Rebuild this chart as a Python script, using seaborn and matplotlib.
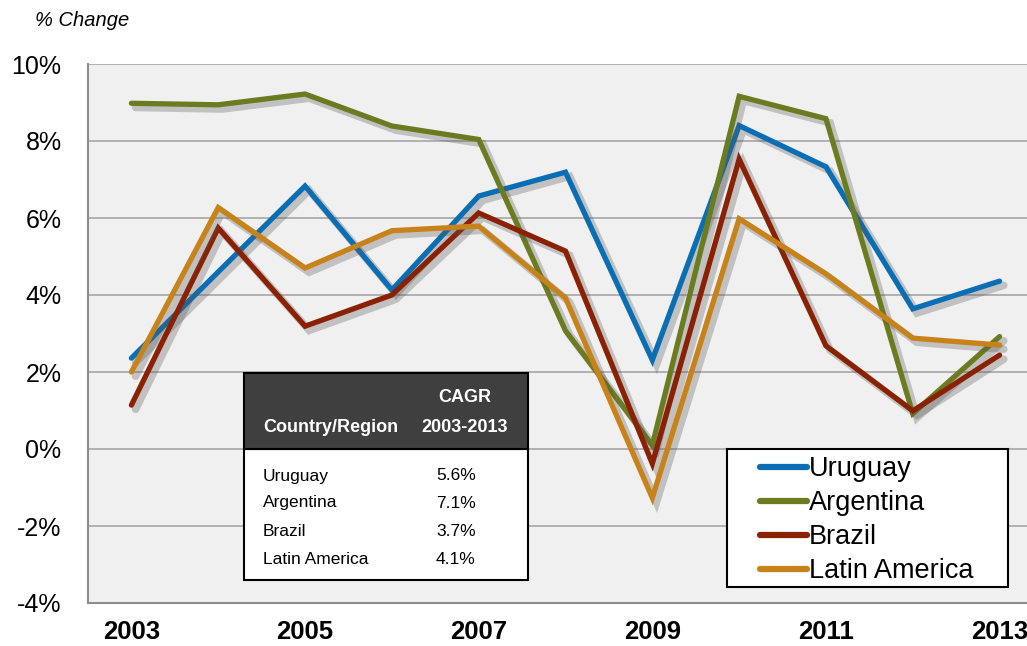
import numpy as np
import pandas as pd
import matplotlib
matplotlib.use('Agg')
import matplotlib.pyplot as plt
import matplotlib.patheffects as pe
from matplotlib.patches import Rectangle
import seaborn as sns

years = [2003, 2004, 2005, 2006, 2007, 2008, 2009, 2010, 2011, 2012, 2013]
uruguay = [2.36, 4.6, 6.83, 4.13, 6.57, 7.19, 2.31, 8.40, 7.33, 3.64, 4.36]
argentina = [8.98, 8.94, 9.22, 8.39, 8.04, 3.07, 0.1, 9.16, 8.58, 0.92, 2.92]
brazil = [1.14, 5.74, 3.19, 4.0, 6.13, 5.14, -0.38, 7.53, 2.68, 0.99, 2.44]
latam = [2.0, 6.27, 4.7, 5.67, 5.79, 3.92, -1.27, 5.98, 4.55, 2.88, 2.70]

series = ['Uruguay', 'Argentina', 'Brazil', 'Latin America']
colors = ['#0A6EB4', '#6B7B1F', '#8B2103', '#C8821A']

cagr_names = ['Uruguay', 'Argentina', 'Brazil', 'Latin America']
cagr_values = ['5.6%', '7.1%', '3.7%', '4.1%']

df = pd.DataFrame({
    'Year': years * 4,
    'Change': uruguay + argentina + brazil + latam,
    'Series': [s for s in series for _ in years],
})

sns.set_style('white')
plt.rcParams['font.family'] = ['Liberation Sans', 'DejaVu Sans']
plt.rcParams['text.color'] = 'black'

W, H = 1027, 646
fig = plt.figure(figsize=(W / 100, H / 100), dpi=100)
# axes runs a bit past the right edge, as in the cropped original
ax = fig.add_axes([88 / W, 1 - 603 / H, (1043 - 88) / W, (603 - 64) / H])
ax.set_facecolor('#F0F0F0')

sns.lineplot(data=df, x='Year', y='Change', hue='Series', hue_order=series,
             palette=colors, linewidth=3.8, ax=ax, legend=True)
for line in ax.get_lines():
    line.set_solid_capstyle('round')
    line.set_solid_joinstyle('miter')
    line.set_path_effects([pe.SimpleLineShadow(offset=(3, -3), shadow_color='#555555', alpha=0.3,
                                               linewidth=5.5),
                           pe.Normal()])

ax.set_xlim(2002.5, 2013.5)
ax.set_ylim(-4, 10)
ax.set_yticks(range(-4, 11, 2))
ax.set_yticklabels([f'{v}%' for v in range(-4, 11, 2)], fontsize=18, color='black')
ax.yaxis.grid(True, color='#A6A6A6', linewidth=1.2)
ax.set_axisbelow(True)

ax.set_xticks(years[::2])
ax.set_xticklabels([str(y) for y in years[::2]], fontsize=18.5, fontweight='bold', color='black')
ax.set_xticks(np.arange(2002.5, 2014, 1), minor=True)
ax.tick_params(axis='x', which='major', length=0, pad=12)
ax.tick_params(axis='x', which='minor', length=7, color='#8C8C8C', width=1.2, direction='out')
ax.tick_params(axis='y', length=8, color='#8C8C8C', width=1.2, direction='out', pad=11)
ax.set_xlabel('')
ax.set_ylabel('')

for side in ['top', 'right']:
    ax.spines[side].set_visible(False)
for side in ['left', 'bottom']:
    ax.spines[side].set_color('#8C8C8C')
    ax.spines[side].set_linewidth(1.5)

fig.text(35 / W, 1 - 21 / H, '% Change', fontsize=14.5, style='italic', va='center', ha='left')

# legend: box drawn separately so the inner left margin matches
fig.patches.append(Rectangle((727 / W, 1 - 587 / H), (1008 - 727) / W, (587 - 449) / H,
                             transform=fig.transFigure, facecolor='white', edgecolor='black',
                             linewidth=1.5, zorder=5))
handles, labels = ax.get_legend_handles_labels()
ax.get_legend().remove()
leg = fig.legend(handles, labels, loc='upper left', bbox_to_anchor=(760 / W, 1 - 456 / H),
                 bbox_transform=fig.transFigure, frameon=False,
                 fontsize=19.5, handlelength=1.75, handletextpad=0.05, labelspacing=0.3,
                 borderpad=0.0, borderaxespad=0, labelcolor='black')
leg.set_zorder(7)
for h in leg.get_lines():
    h.set_linewidth(4.5)
    h.set_path_effects([])
    h.set_solid_capstyle('round')

# CAGR table
x0, x1 = 244, 528
y0, yh, y1 = 373, 449, 580
fig.patches.append(Rectangle((x0 / W, 1 - y1 / H), (x1 - x0) / W, (y1 - yh) / H,
                             transform=fig.transFigure, facecolor='white', edgecolor='black',
                             linewidth=1.5, zorder=5))
fig.patches.append(Rectangle((x0 / W, 1 - yh / H), (x1 - x0) / W, (yh - y0) / H,
                             transform=fig.transFigure, facecolor='#3F3F3F', edgecolor='black',
                             linewidth=1.5, zorder=5))
fig.text(465 / W, 1 - 398 / H, 'CAGR', color='white', fontsize=13, fontweight='bold',
         ha='center', va='center', zorder=6)
fig.text(465 / W, 1 - 428 / H, '2003-2013', color='white', fontsize=13, fontweight='bold',
         ha='center', va='center', zorder=6)
fig.text(263 / W, 1 - 428 / H, 'Country/Region', color='white', fontsize=13, fontweight='bold',
         ha='left', va='center', zorder=6)
row_y = [476, 503, 531, 559]
for name, val, yy in zip(cagr_names, cagr_values, row_y):
    fig.text(263 / W, 1 - yy / H, name, fontsize=12.5, ha='left', va='center', zorder=6)
    fig.text(456 / W, 1 - yy / H, val, fontsize=12.5, ha='center', va='center', zorder=6)

fig.savefig('out.png', dpi=100)
